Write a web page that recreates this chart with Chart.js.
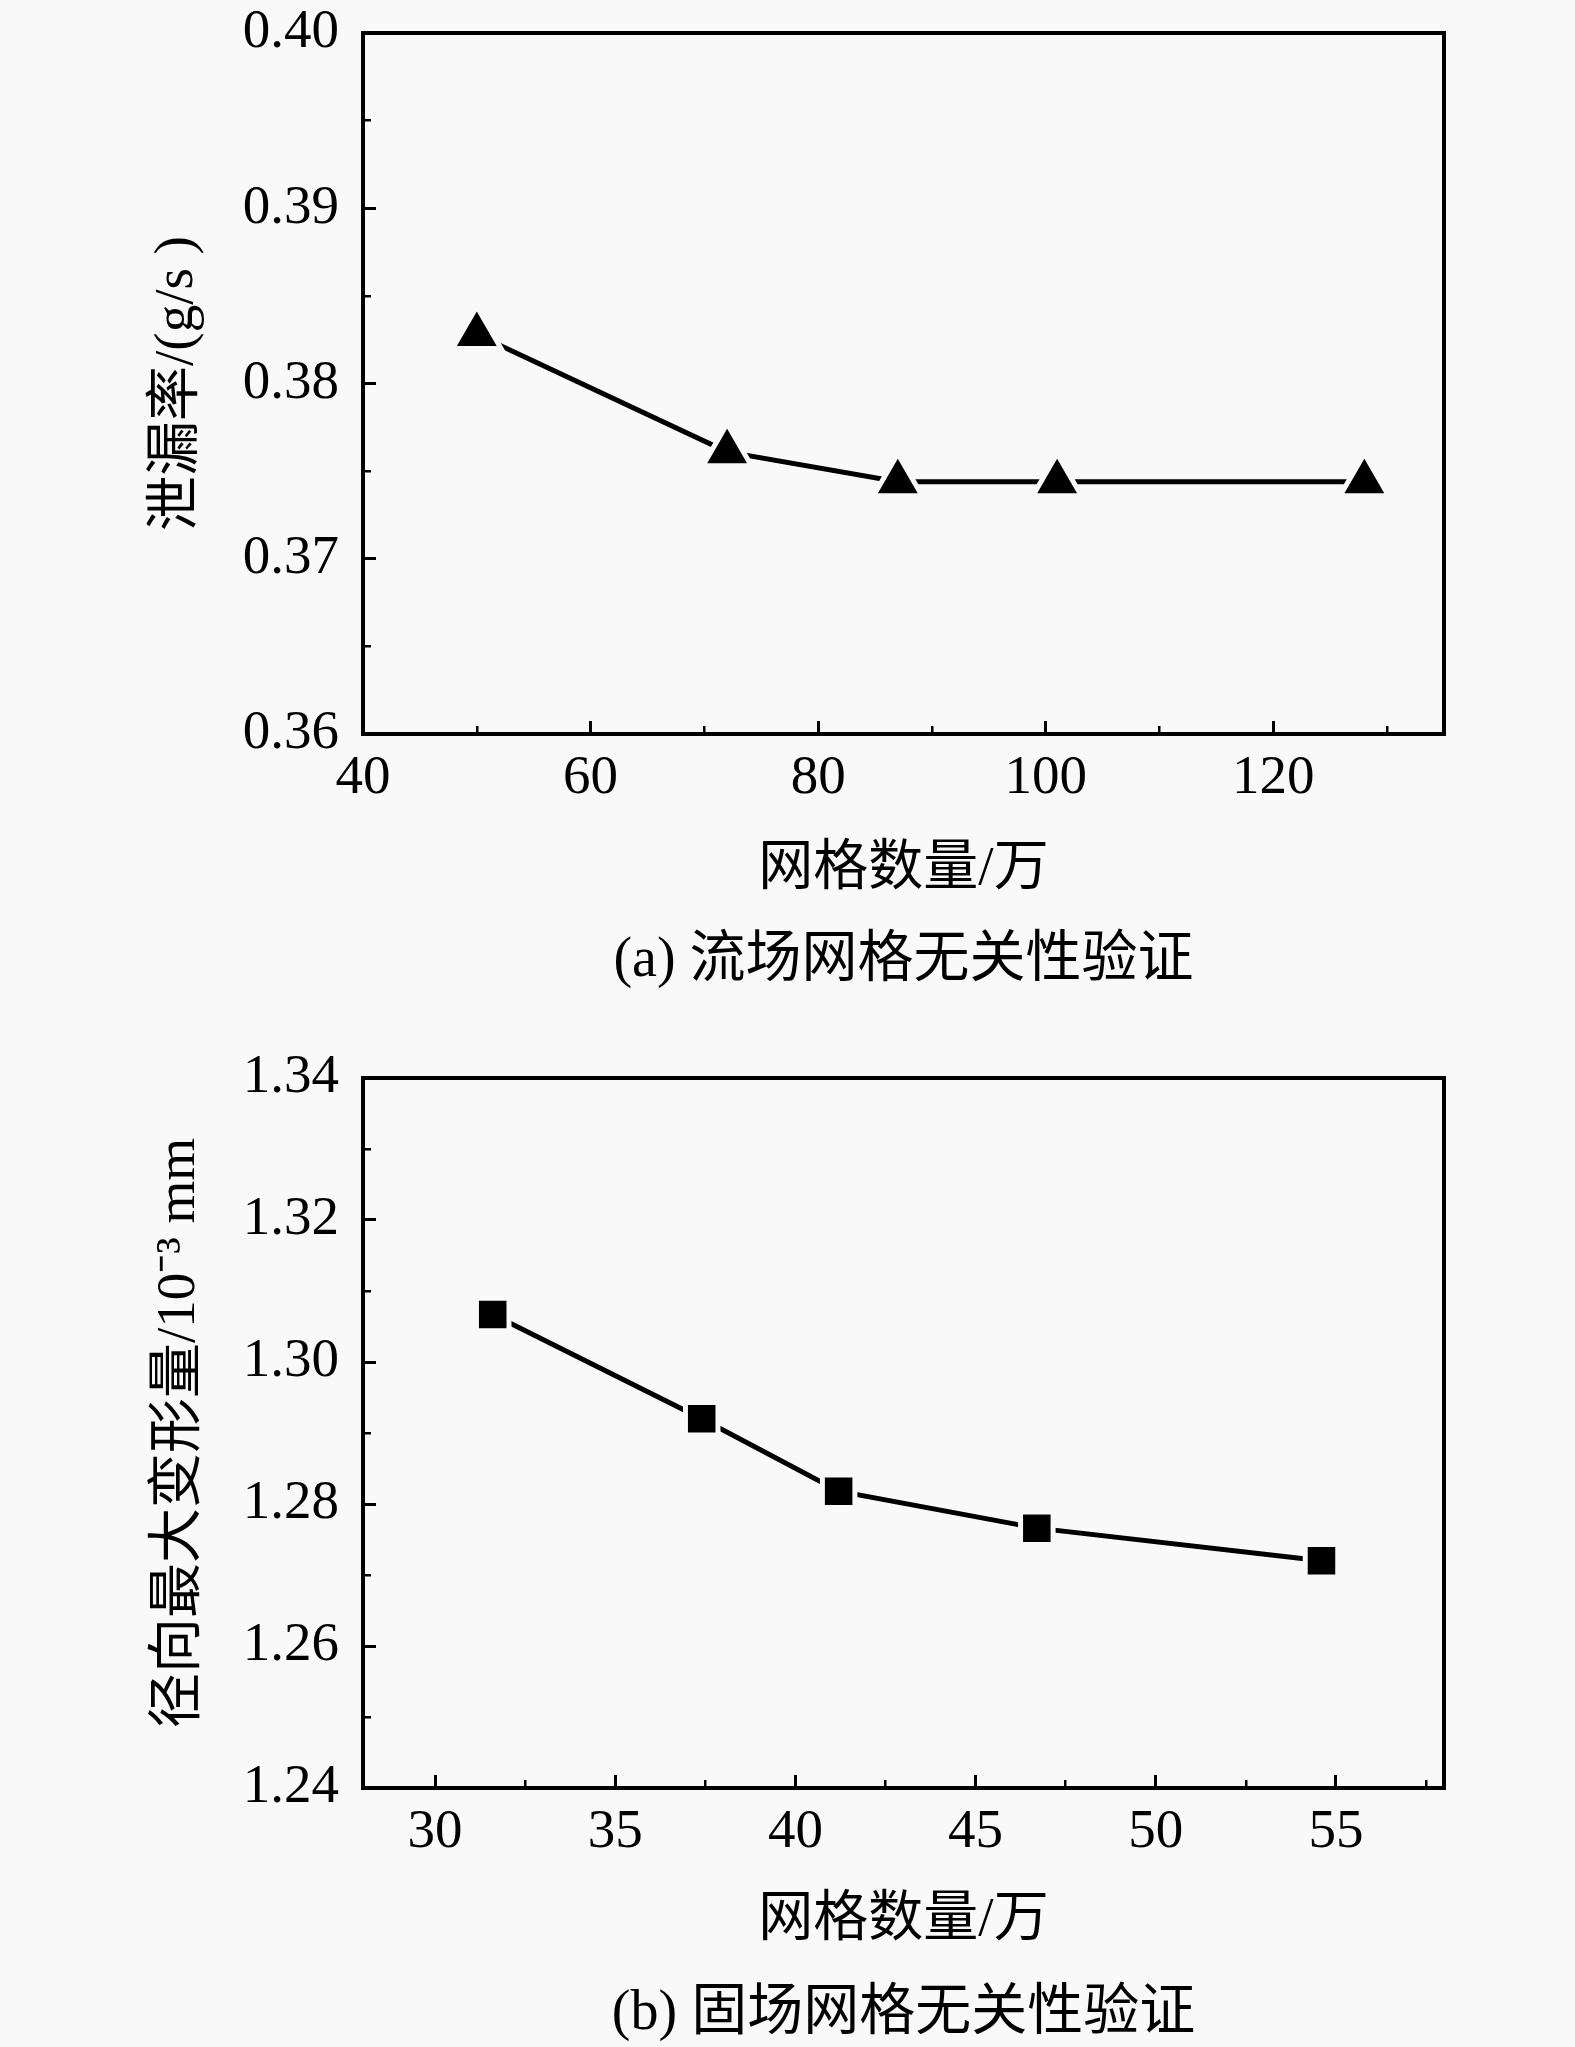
<!DOCTYPE html>
<html>
<head>
<meta charset="utf-8">
<title>网格无关性验证</title>
<script src="https://cdn.jsdelivr.net/npm/chart.js@4.4.1/dist/chart.umd.min.js"></script>
<style>
    body { margin: 0; background: #f9f9f9; }
    .box { position: relative; width: 1575px; }
    #boxFirst { height: 1000px; }
    #boxSecond { height: 1047px; }
</style>
</head>
<body>
<div class="box" id="boxFirst"><canvas id="lineChartFirst"></canvas></div>
<div class="box" id="boxSecond"><canvas id="lineChartSecond"></canvas></div>
<script>
// (a) flow field mesh independence
var meshFlow = [50, 72, 87, 101, 128];
var leakRate = [0.3828, 0.3761, 0.3744, 0.3744, 0.3744];
var flowTicksX = [40, 60, 80, 100, 120];
var flowMinorX = [50, 70, 90, 110, 130];
var flowTicksY = [0.36, 0.37, 0.38, 0.39, 0.40];
var flowMinorY = [0.365, 0.375, 0.385, 0.395];

// (b) solid field mesh independence
var meshSolid = [31.6, 37.4, 41.2, 46.7, 54.6];
var radialDeform = [1.3067, 1.2920, 1.2818, 1.2766, 1.2720];
var solidTicksX = [30, 35, 40, 45, 50, 55];
var solidMinorX = [32.5, 37.5, 42.5, 47.5, 52.5, 57.5];
var solidTicksY = [1.24, 1.26, 1.28, 1.30, 1.32, 1.34];
var solidMinorY = [1.25, 1.27, 1.29, 1.31, 1.33];

var INK = '#000';
var PAPER = '#f9f9f9';
var FONT = '"Liberation Serif", "Noto Sans CJK SC", serif';

Chart.defaults.font.family = FONT;
Chart.defaults.color = INK;

function useTicks(values) {
    return function (scale) {
        scale.ticks = values.map(function (v) { return { value: v }; });
    };
}

function makeChart(canvasId, c) {
    var points = c.xs.map(function (x, i) { return { x: x, y: c.ys[i] }; });

    var scales = {
        x: {
            type: 'linear', position: 'bottom', min: c.xMin, max: c.xMax, weight: 1,
            afterBuildTicks: useTicks(c.ticksX),
            afterFit: function (s) { s.height = c.xHeight; },
            ticks: {
                color: INK, padding: 30, autoSkip: false, maxRotation: 0,
                font: { size: 55, lineHeight: 1 },
                callback: function (v) { return String(v); }
            },
            grid: { drawOnChartArea: false, color: INK, lineWidth: 3, tickLength: -13 },
            border: { color: INK, width: 4 },
            title: {
                display: true, text: '网格数量/万', color: INK,
                font: { size: 55, lineHeight: 1 },
                padding: { top: 0, bottom: c.xTitlePad }
            }
        },
        x2: {
            type: 'linear', position: 'bottom', min: c.xMin, max: c.xMax, weight: 0,
            afterBuildTicks: useTicks(c.minorX),
            afterFit: function (s) { s.height = 0; },
            ticks: { display: false },
            grid: { drawOnChartArea: false, color: INK, lineWidth: 2.5, tickLength: -8 },
            border: { display: false }
        },
        y: {
            type: 'linear', position: 'left', min: c.yMin, max: c.yMax, weight: 1,
            afterBuildTicks: useTicks(c.ticksY),
            afterFit: function (s) {
                s.width = 363;
                // labels may overhang the plot box, as in the original
                s.paddingTop = 0;
                s.paddingBottom = 0;
            },
            ticks: {
                color: INK, padding: 37, autoSkip: false,
                font: { size: 55, lineHeight: 0.9 },
                callback: function (v) { return v.toFixed(2); }
            },
            grid: { drawOnChartArea: false, color: INK, lineWidth: 3, tickLength: -13 },
            border: { color: INK, width: 4 },
            title: {
                display: true, text: c.yTitle, color: INK,
                font: { size: 55, lineHeight: 1 },
                padding: { top: c.yTitlePad, bottom: 0 }
            }
        },
        y2: {
            type: 'linear', position: 'left', min: c.yMin, max: c.yMax, weight: 0,
            afterBuildTicks: useTicks(c.minorY),
            afterFit: function (s) { s.width = 0; },
            ticks: { display: false },
            grid: { drawOnChartArea: false, color: INK, lineWidth: 2.5, tickLength: -8 },
            border: { display: false }
        },
        xTop: {
            type: 'linear', position: 'top',
            afterFit: function (s) { s.height = 0; },
            ticks: { display: false },
            grid: { drawOnChartArea: false, drawTicks: false },
            border: { color: INK, width: 4 }
        },
        yRight: {
            type: 'linear', position: 'right',
            afterFit: function (s) { s.width = 0; },
            ticks: { display: false },
            grid: { drawOnChartArea: false, drawTicks: false },
            border: { color: INK, width: 4 }
        }
    };

    new Chart(document.getElementById(canvasId), {
        type: 'line',
        data: {
            datasets: [{
                data: points,
                xAxisID: 'x',
                yAxisID: 'y',
                borderColor: INK,
                borderWidth: 5,
                tension: 0,
                pointStyle: c.marker,
                pointRadius: c.markerRadius,
                pointBackgroundColor: INK,
                pointBorderColor: PAPER,
                pointBorderWidth: 5
            }]
        },
        options: {
            responsive: true,
            maintainAspectRatio: false,
            animation: false,
            events: [],
            layout: { padding: { top: c.padTop, right: 131, bottom: 0, left: 0 } },
            plugins: {
                legend: { display: false },
                tooltip: { enabled: false },
                title: {
                    display: true, text: c.caption, position: 'bottom', fullSize: false,
                    color: INK, font: { size: 56, weight: 'normal', lineHeight: 1 },
                    padding: { top: 0, bottom: c.capPad }
                }
            },
            scales: scales
        }
    });
}

makeChart('lineChartFirst', {
    xs: meshFlow, ys: leakRate,
    xMin: 40, xMax: 135, yMin: 0.36, yMax: 0.40,
    ticksX: flowTicksX, minorX: flowMinorX, ticksY: flowTicksY, minorY: flowMinorY,
    yTitle: '泄漏率/(g/s )',
    caption: '(a) 流场网格无关性验证',
    marker: 'triangle', markerRadius: 28,
    padTop: 26, xHeight: 199, xTitlePad: 35.5, yTitlePad: 150, capPad: 11
});

makeChart('lineChartSecond', {
    xs: meshSolid, ys: radialDeform,
    xMin: 28, xMax: 58, yMin: 1.24, yMax: 1.34,
    ticksX: solidTicksX, minorX: solidMinorX, ticksY: solidTicksY, minorY: solidMinorY,
    yTitle: '径向最大变形量/10⁻³ mm',
    caption: '(b) 固场网格无关性验证',
    marker: 'rect', markerRadius: 23,
    padTop: 78, xHeight: 198, xTitlePad: 37.5, yTitlePad: 152, capPad: 5
});
</script>
</body>
</html>
